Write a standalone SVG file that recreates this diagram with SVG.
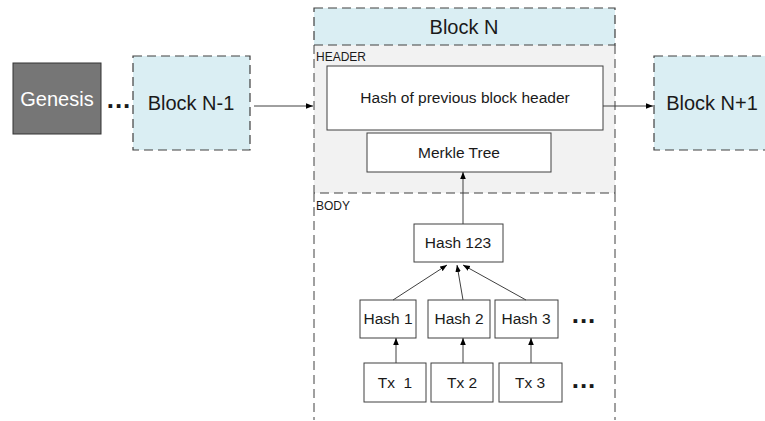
<svg xmlns="http://www.w3.org/2000/svg" width="765" height="421" viewBox="0 0 765 421">
<defs>
<marker id="ah" viewBox="0 0 10 10" refX="10" refY="5" markerWidth="7" markerHeight="7" orient="auto" markerUnits="userSpaceOnUse">
<path d="M0,1 L10,5 L0,9 z" fill="#000"/>
</marker>
<style>
text{font-family:"Liberation Sans",Arial,sans-serif;fill:#1a1a1a}
.dash{fill:#daeef3;stroke:#404040;stroke-width:1.2;stroke-dasharray:9,5}
.box{fill:#fff;stroke:#404040;stroke-width:1}
.ln{stroke:#404040;stroke-width:1;fill:none}
.big{font-size:20px}
.mid{font-size:15.5px}
.sm{font-size:12px}
.dots{font-size:26px;font-weight:bold;letter-spacing:1px}
</style>
</defs>
<rect width="765" height="421" fill="#fff"/>
<g id="genesis">
<rect x="13" y="63" width="88" height="71" fill="#767676" stroke="#333" stroke-width="1"/>
<text x="57" y="106" class="big" text-anchor="middle" style="fill:#fff">Genesis</text>
</g>
<g id="dots-left"><text x="119" y="108" class="dots" text-anchor="middle">...</text></g>
<g id="blockN-1">
<rect x="133" y="56" width="117" height="94" class="dash"/>
<text x="191" y="110" class="big" text-anchor="middle">Block N-1</text>
</g>
<g id="blockN">
<rect x="314" y="45" width="301" height="148" fill="#f2f2f2" stroke="none"/>
<rect x="314" y="8" width="301" height="37" class="dash"/>
<text x="464" y="34" class="big" text-anchor="middle">Block N</text>
<path d="M314,45 V193 H615 V45" class="ln" stroke-dasharray="9,5" stroke-width="1.2"/>
<path d="M314,193 V420 M615,193 V420" class="ln" stroke-dasharray="9,5" stroke-width="1.2"/>
<text x="316" y="61" class="sm">HEADER</text>
<text x="316" y="210" class="sm">BODY</text>
</g>
<g id="prevhash">
<rect x="327" y="66" width="276" height="64" class="box"/>
<text x="465" y="103" class="mid" text-anchor="middle">Hash of previous block header</text>
</g>
<g id="merkle">
<rect x="367" y="133" width="184" height="39" class="box"/>
<text x="459" y="158" class="mid" text-anchor="middle">Merkle Tree</text>
</g>
<g id="blockN1">
<rect x="654" y="56" width="117" height="94" class="dash"/>
<text x="712" y="110" class="big" text-anchor="middle">Block N+1</text>
</g>
<g id="hash123">
<rect x="414" y="224" width="89" height="38" class="box"/>
<text x="458" y="248" class="mid" text-anchor="middle">Hash 123</text>
</g>
<g id="hash1"><rect x="360" y="300" width="56" height="38" class="box"/><text x="388" y="324" class="mid" text-anchor="middle">Hash 1</text></g>
<g id="hash2"><rect x="428" y="300" width="62" height="38" class="box"/><text x="459" y="324" class="mid" text-anchor="middle">Hash 2</text></g>
<g id="hash3"><rect x="495" y="300" width="63" height="38" class="box"/><text x="526" y="324" class="mid" text-anchor="middle">Hash 3</text></g>
<g id="dots-hash"><text x="584" y="323" class="dots" text-anchor="middle">...</text></g>
<g id="tx1"><rect x="364" y="363" width="62" height="39" class="box"/><text x="395" y="388" class="mid" text-anchor="middle" xml:space="preserve">Tx  1</text></g>
<g id="tx2"><rect x="431" y="363" width="62" height="39" class="box"/><text x="462" y="388" class="mid" text-anchor="middle">Tx 2</text></g>
<g id="tx3"><rect x="499" y="363" width="63" height="39" class="box"/><text x="530" y="388" class="mid" text-anchor="middle">Tx 3</text></g>
<g id="dots-tx"><text x="584" y="388" class="dots" text-anchor="middle">...</text></g>
<g id="connectors" class="ln" marker-end="url(#ah)">
<line x1="254" y1="106" x2="313" y2="106"/>
<line x1="603" y1="106" x2="653" y2="106"/>
<line x1="463" y1="224" x2="463" y2="172"/>
<line x1="393" y1="300" x2="447" y2="265"/>
<line x1="463" y1="300" x2="457" y2="265"/>
<line x1="526" y1="300" x2="463" y2="265"/>
<line x1="396" y1="363" x2="396" y2="338"/>
<line x1="463" y1="363" x2="463" y2="338"/>
<line x1="531" y1="363" x2="531" y2="338"/>
</g>
</svg>
